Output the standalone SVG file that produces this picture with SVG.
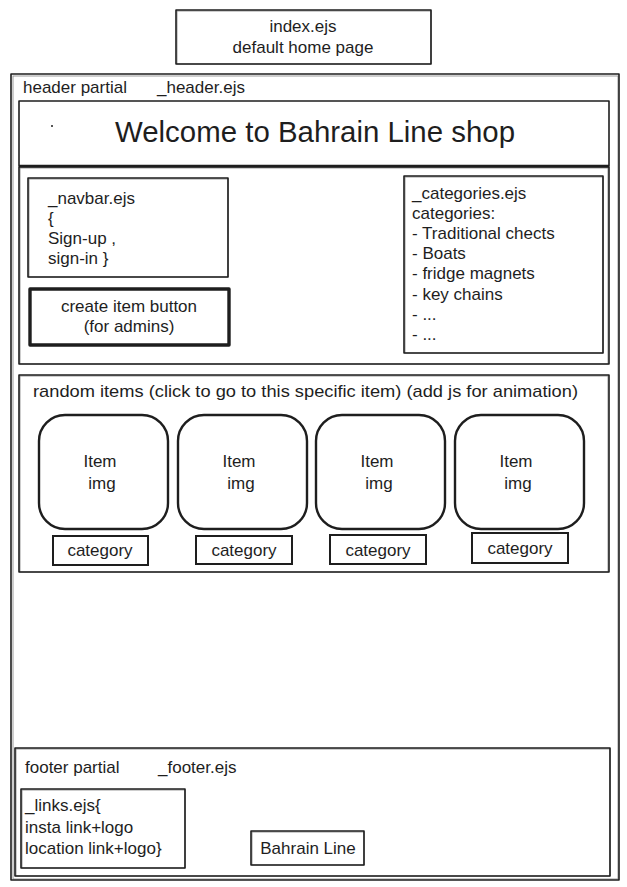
<svg xmlns="http://www.w3.org/2000/svg" width="627" height="887" viewBox="0 0 627 887">
  <style>
    .box { fill: none; stroke: #1e1e1e; stroke-width: 1.6; stroke-linejoin: round; }
    .ghost { fill: none; stroke: #1e1e1e; stroke-width: 0.8; opacity: 0.55; }
    .thick { fill: none; stroke: #1e1e1e; stroke-width: 3.4; stroke-linejoin: round; }
    .card { fill: none; stroke: #1e1e1e; stroke-width: 2.4; }
    .tag { fill: none; stroke: #1e1e1e; stroke-width: 2; }
    .t { font-family: "Liberation Sans", Arial, sans-serif; fill: #1e1e1e; font-size: 17px; }
    .c { text-anchor: middle; }
    .big { font-size: 29px; }
  </style>

  <!-- page file -->
  <g id="index-page">
    <rect class="box" x="176" y="10" width="255" height="54"/>
    <rect class="ghost" x="177" y="11" width="254" height="53"/>
    <text class="t c" x="303" y="32">index.ejs</text>
    <text class="t c" x="303" y="53">default home page</text>
  </g>

  <!-- outer page frame -->
  <g id="page-frame">
    <rect class="box" x="11" y="74" width="608" height="806"/>
    <rect class="ghost" x="13" y="76" width="605" height="803"/>
  </g>

  <g id="header-label">
    <text class="t" x="23" y="93">header partial</text>
    <text class="t" x="157" y="93">_header.ejs</text>
  </g>

  <g id="title-bar">
    <rect class="box" x="19" y="101" width="590" height="65"/>
    <line x1="19" y1="166" x2="609" y2="166" stroke="#1e1e1e" stroke-width="2.6"/>
    <circle cx="52" cy="126" r="1" fill="#1e1e1e"/>
    <text class="t c big" x="315" y="142" textLength="400" lengthAdjust="spacingAndGlyphs">Welcome to Bahrain Line shop</text>
  </g>

  <g id="nav-section">
    <rect class="box" x="19" y="167" width="590" height="197"/>
    <rect class="ghost" x="20" y="168" width="588" height="196"/>
  </g>

  <g id="navbar">
    <rect class="box" x="28" y="178" width="200" height="99"/>
    <rect class="ghost" x="29" y="179" width="199" height="98"/>
    <text class="t" x="48" y="204">_navbar.ejs</text>
    <text class="t" x="48" y="224">{</text>
    <text class="t" x="48" y="244">Sign-up ,</text>
    <text class="t" x="48" y="264">sign-in }</text>
  </g>

  <g id="create-item-button">
    <rect class="thick" x="30" y="289" width="199" height="56"/>
    <text class="t c" x="129" y="312">create item button</text>
    <text class="t c" x="129" y="332">(for admins)</text>
  </g>

  <g id="categories">
    <rect class="box" x="404" y="176" width="199" height="177"/>
    <rect class="ghost" x="405" y="177" width="198" height="176"/>
    <text class="t" x="412" y="199">_categories.ejs</text>
    <text class="t" x="412" y="219">categories:</text>
    <text class="t" x="412" y="239">- Traditional chects</text>
    <text class="t" x="412" y="259">- Boats</text>
    <text class="t" x="412" y="279">- fridge magnets</text>
    <text class="t" x="412" y="300">- key chains</text>
    <text class="t" x="412" y="320">- ...</text>
    <text class="t" x="412" y="340">- ...</text>
  </g>

  <g id="random-items">
    <rect class="box" x="19" y="375" width="590" height="197"/>
    <rect class="ghost" x="20" y="376" width="588" height="196"/>
    <text class="t" x="33" y="397" textLength="545" lengthAdjust="spacingAndGlyphs">random items (click to go to this specific item) (add js for animation)</text>
  </g>

  <g id="item-1">
    <rect class="card" x="39" y="415" width="129" height="114" rx="26"/>
    <text class="t c" x="100" y="467">Item</text>
    <text class="t c" x="102" y="489">img</text>
    <rect class="tag" x="53" y="536" width="95" height="29"/>
    <text class="t c" x="100" y="556">category</text>
  </g>

  <g id="item-2">
    <rect class="card" x="178" y="415" width="129" height="114" rx="26"/>
    <text class="t c" x="239" y="467">Item</text>
    <text class="t c" x="241" y="489">img</text>
    <rect class="tag" x="196" y="536" width="96" height="28"/>
    <text class="t c" x="244" y="556">category</text>
  </g>

  <g id="item-3">
    <rect class="card" x="316" y="415" width="129" height="114" rx="26"/>
    <text class="t c" x="377" y="467">Item</text>
    <text class="t c" x="379" y="489">img</text>
    <rect class="tag" x="330" y="535" width="96" height="29"/>
    <text class="t c" x="378" y="556">category</text>
  </g>

  <g id="item-4">
    <rect class="card" x="455" y="415" width="129" height="114" rx="26"/>
    <text class="t c" x="516" y="467">Item</text>
    <text class="t c" x="518" y="489">img</text>
    <rect class="tag" x="472" y="533" width="96" height="30"/>
    <text class="t c" x="520" y="554">category</text>
  </g>

  <g id="footer">
    <rect class="box" x="15" y="748" width="595" height="128"/>
    <rect class="ghost" x="16" y="749" width="594" height="127"/>
    <text class="t" x="25" y="773">footer partial</text>
    <text class="t" x="158" y="773">_footer.ejs</text>
  </g>

  <g id="links">
    <rect class="box" x="21" y="789" width="164" height="79"/>
    <rect class="ghost" x="22" y="790" width="163" height="78"/>
    <text class="t" x="25" y="811">_links.ejs{</text>
    <text class="t" x="25" y="833">insta link+logo</text>
    <text class="t" x="25" y="854">location link+logo}</text>
  </g>

  <g id="brand">
    <rect class="box" x="251" y="831" width="113" height="34"/>
    <rect class="ghost" x="252" y="832" width="112" height="33"/>
    <text class="t c" x="308" y="854">Bahrain Line</text>
  </g>

  <g id="connectors"/>
</svg>
